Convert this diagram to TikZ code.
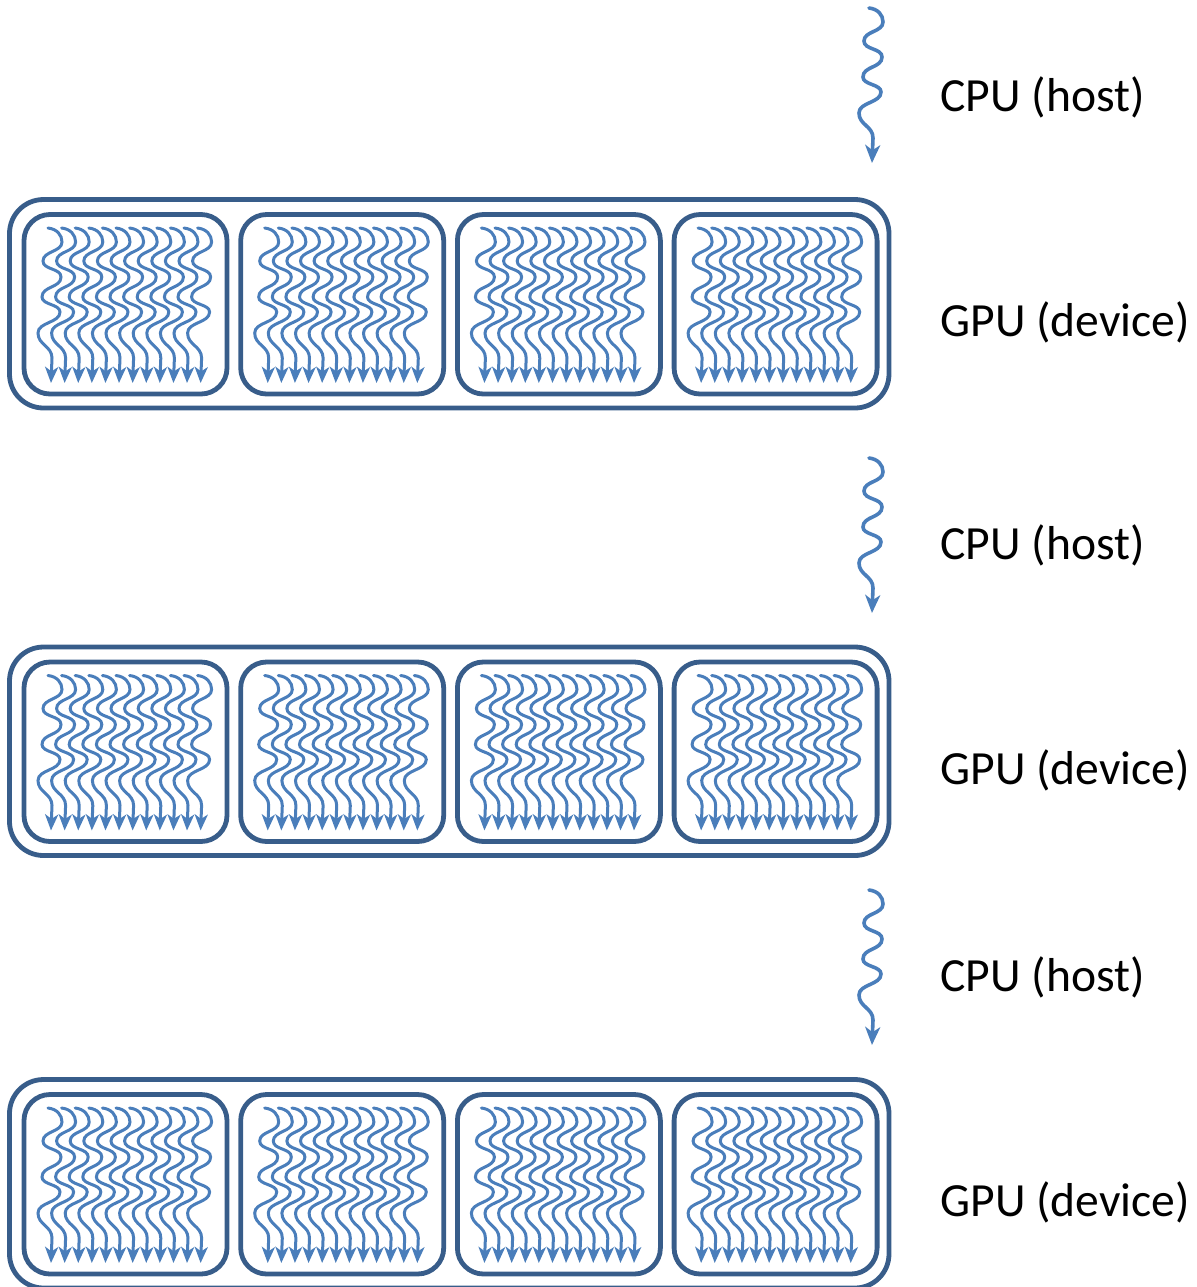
\documentclass[tikz,border=0pt]{standalone}
\usepackage{fontspec}
\setmainfont{Carlito}
\usetikzlibrary{arrows.meta}
\definecolor{boxblue}{RGB}{56,93,138}
\definecolor{threadblue}{RGB}{74,126,187}
\begin{document}
\begin{tikzpicture}[x=0.5pt,y=-0.5pt,
  outerbox/.style={draw=boxblue,line width=2.4pt,rounded corners=17pt},
  innerbox/.style={draw=boxblue,line width=2.4pt,rounded corners=13pt},
  thread/.style={draw=threadblue,line width=1.5pt,line cap=round,
    -{Stealth[length=8pt,width=6.5pt,inset=2.2pt]}},
  hostflow/.style={draw=threadblue,line width=1.8pt,line cap=round,
    -{Stealth[length=9pt,width=7.5pt,inset=2.6pt]}},
  sidetext/.style={anchor=base west,inner sep=0pt,font=\fontsize{23.8}{28}\selectfont},
  % one wavy flow of control, starting at the pic origin and running downwards
  wavy/.pic={\draw[#1] (0,0) .. controls (9,1) and (14,7) .. (14,14)
     .. controls (14,24) and (-5,23) .. (-5,33)
     .. controls (-5,42) and (13,40) .. (13,49)
     .. controls (13,60) and (-6,58) .. (-6,69)
     .. controls (-6,77) and (12,76) .. (12,84)
     .. controls (12,95) and (-10,94) .. (-10,105)
     .. controls (-10,117) and (4,118) .. (4,130)
     -- (3,155);}
]
\clip (0,0) rectangle (1197,1287);

% each stage: a host step followed by a device launch of four blocks
\foreach \r/\top/\cpu/\cpub/\gpub in {0/199.5/8/111/336, 1/647/458/559/784, 2/1079.5/890/991/1216}{
  % host thread
  \pic at (869,\cpu) {wavy=hostflow};
  \node[sidetext] (host\r) at (940,\cpub) {CPU (host)};
  % device grid
  \draw[outerbox] (9.5,\top) rectangle (889,{\top+208.5});
  \node[sidetext] (device\r) at (940,\gpub) {GPU (device)};
  \foreach \k in {0,...,3}{
    \draw[innerbox] ({24+216.7*\k},{\top+15}) rectangle ({227+216.7*\k},{\top+194.5});
    \foreach \t in {0,...,11}{
      \pic at ({48+216.7*\k+13.6*\t},{\top+28.5}) {wavy=thread};
    }
  }
}
\end{tikzpicture}
\end{document}
